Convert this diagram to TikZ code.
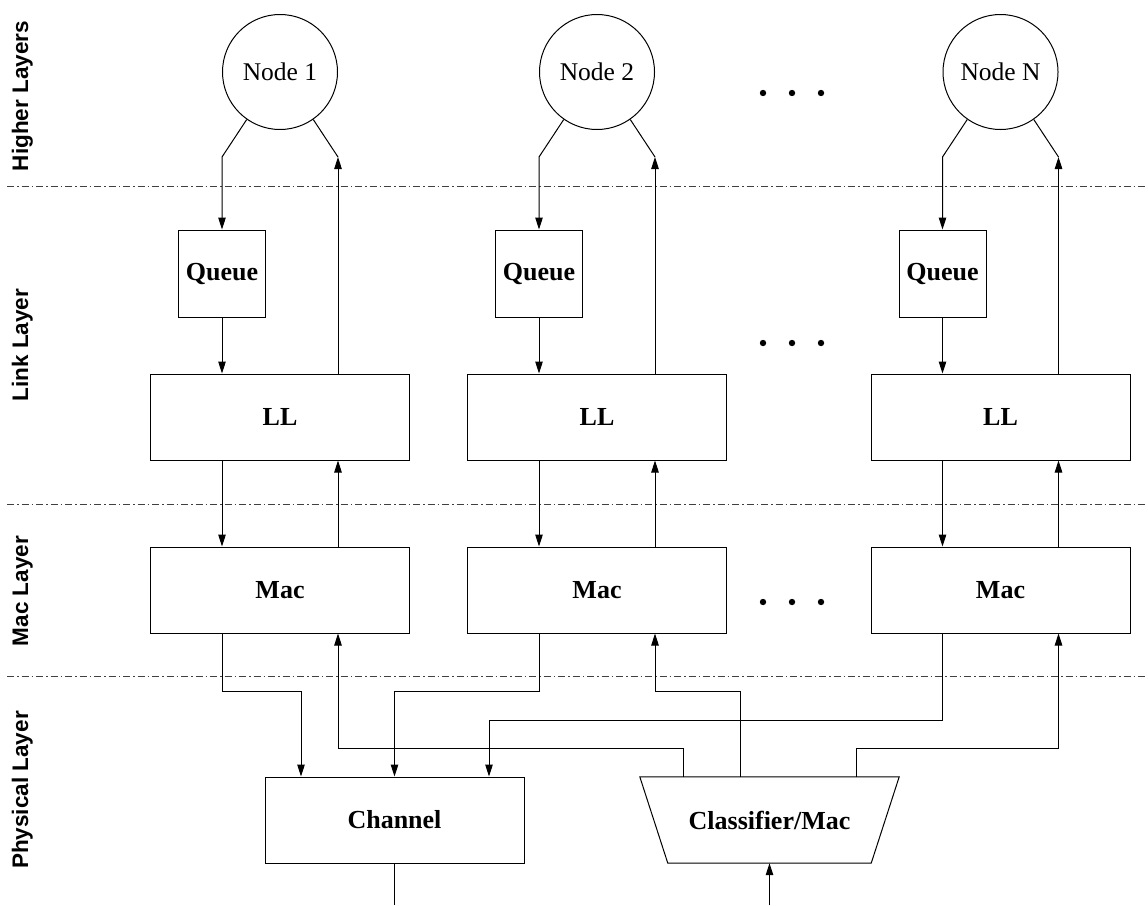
\documentclass[tikz,border=0pt]{standalone}
\usepackage{fontspec}
\setmainfont{Liberation Serif}
\newfontfamily\lsans{Liberation Sans}
\usetikzlibrary{arrows.meta,calc}
\begin{document}
\begin{tikzpicture}[x=1pt,y=-1pt,
 box/.style={draw,line width=1pt,minimum width=259pt,minimum height=86pt,inner sep=0pt,font=\bfseries\fontsize{26}{30}\selectfont},
 qbox/.style={box,minimum width=87pt,minimum height=87pt},
 host/.style={draw,circle,line width=1pt,minimum size=115pt,inner sep=0pt,font=\fontsize{25.5}{30}\selectfont},
 arr/.style={line width=1pt,-{Triangle[length=12pt,width=7.5pt]}},
 wire/.style={line width=1pt},
 sep/.style={line width=0.8pt,black!75,dash pattern=on 7pt off 3pt on 1.5pt off 3pt},
 layer/.style={rotate=90,anchor=base,inner sep=0pt,font=\lsans\bfseries\fontsize{22.5}{26}\selectfont}]
\useasboundingbox (0,0) rectangle (1148,905);

% layer separators
\draw[sep] (7,186) -- (1148,186);
\draw[sep] (7,504) -- (1148,504);
\draw[sep] (7,676) -- (1148,676);

% layer labels
\node[layer] (lh) at (28,96) {Higher Layers};
\node[layer] (ll) at (28,345) {Link Layer};
\node[layer] (lm) at (28,591) {Mac Layer};
\node[layer] (lp) at (28,790) {Physical Layer};

% columns
\foreach \c/\i/\t in {280/1/1, 597/2/2, 1000.5/3/N}{
  \node[host] (n\i) at (\c,72) {Node \t};
  \node[qbox] (q\i) at (\c-58,273.5) {Queue};
  \node[box] (l\i) at (\c,417) {LL};
  \node[box] (m\i) at (\c,590) {Mac};
  \coordinate (d\i) at (\c-58,157);
  \coordinate (u\i) at (\c+58,157);
  \draw[arr] (n\i.235) -- (d\i) -- (q\i.north -| d\i);
  \draw[arr] (l\i.north -| u\i) -- (u\i);
  \draw[wire] (u\i) -- (n\i.-55);
  \draw[arr] (q\i.south -| d\i) -- (l\i.north -| d\i);
  \draw[arr] (l\i.south -| d\i) -- (m\i.north -| d\i);
  \draw[arr] (m\i.north -| u\i) -- (l\i.south -| u\i);
}

% ellipsis dots
\foreach \yy in {93,343,602}{
  \foreach \xx in {763,792,821}{
    \fill (\xx,\yy) circle[radius=3.2pt];
  }
}

% physical layer
\node[box] (ch) at (394.5,820) {Channel};
\node[minimum width=259pt,minimum height=86pt,inner sep=0pt,font=\bfseries\fontsize{26}{30}\selectfont] (cls) at (769.5,820) {Classifier/Mac};
\draw[line width=1pt] (cls.north west) -- (cls.north east) -- ([xshift=-28pt]cls.south east) -- ([xshift=28pt]cls.south west) -- cycle;

\coordinate (a1) at (301,691);
\coordinate (a3) at (489,720);
\coordinate (b1) at (683,748);
\coordinate (b2) at (740,691);
\coordinate (b3) at (856,748);
\coordinate (bot) at (0,905);

\draw[arr] (m1.south -| d1) |- (a1) -- (a1 |- ch.north);
\draw[arr] (m2.south -| d2) |- (ch.north |- a1) -- (ch.north);
\draw[arr] (m3.south -| d3) |- (a3) -- (a3 |- ch.north);
\draw[arr] (cls.north -| b1) |- (u1 |- b1) -- (m1.south -| u1);
\draw[arr] (cls.north -| b2) |- (u2 |- b2) -- (m2.south -| u2);
\draw[arr] (cls.north -| b3) |- (u3 |- b3) -- (m3.south -| u3);
\draw[wire] (ch.south) -- (ch.south |- bot);
\draw[arr] (cls.south |- bot) -- (cls.south);
\end{tikzpicture}
\end{document}
